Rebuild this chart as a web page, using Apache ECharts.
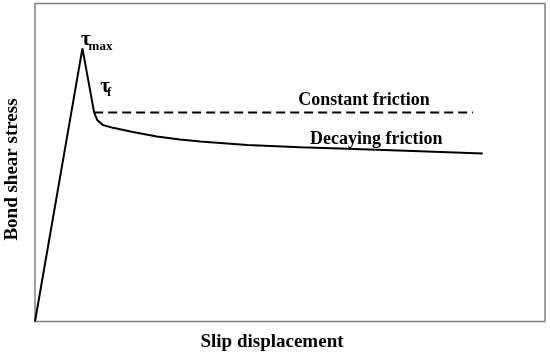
<!DOCTYPE html>
<html>
<head>
<meta charset="utf-8">
<script src="https://cdn.jsdelivr.net/npm/echarts@6/dist/echarts.min.js"></script>
<style>
html,body{margin:0;padding:0;background:#fff;}
#c{width:550px;height:357px;}
</style>
</head>
<body>
<div id="c"></div>
<script>
// Bond–slip curve (arbitrary units, 0–100 on both axes)
const slip   = [0, 9.3, 11.6, 12.2, 13.3, 15.3, 19.2, 23.9, 28.4, 32.4, 41.6, 52.0, 61.2, 75.5, 87.8];
const stress = [0, 85.9, 65.7, 63.4, 61.8, 60.9, 59.6, 58.2, 57.2, 56.6, 55.5, 54.8, 54.3, 53.5, 52.8];
// Constant friction plateau
const constSlip   = [11.6, 85.9];
const constStress = [65.7, 65.7];
// Annotations
const annoText = ['τ', 'max', 'τ', 'f', 'Constant friction', 'Decaying friction'];
const annoX    = [9.0, 10.5, 12.8, 14.1, 64.5, 66.9];
const annoY    = [88.6, 86.5, 73.9, 71.9, 69.7, 57.4];
const annoSize = [21, 13, 21, 13, 18, 18];
const xName = 'Slip displacement';
const yName = 'Bond shear stress';

const font = "'Liberation Serif','Times New Roman',serif";
const chart = echarts.init(document.getElementById('c'), null, {renderer: 'canvas'});

const annoData = annoText.map((t, i) => ({
  value: [annoX[i], annoY[i]],
  label: {
    show: true, formatter: t, position: 'inside',
    fontSize: annoSize[i], fontWeight: 'bold', fontFamily: font, color: '#000',
    align: i < 4 ? 'left' : 'center', verticalAlign: 'middle'
  }
}));

chart.setOption({
  animation: false,
  grid: {left: 35, right: 5, top: 3.5, bottom: 35.5, show: true, outerBoundsMode: 'none', containLabel: false,
         borderColor: '#808080', borderWidth: 1.5, backgroundColor: '#fff'},
  xAxis: {
    type: 'value', min: 0, max: 100,
    name: xName, nameLocation: 'middle', nameGap: 11,
    nameTextStyle: {fontSize: 19, fontWeight: 'bold', fontFamily: font, color: '#000', padding: [0, 36, 0, 0]},
    axisLine: {show: false}, axisTick: {show: false}, axisLabel: {show: false}, splitLine: {show: false}
  },
  yAxis: {
    type: 'value', min: 0, max: 100,
    name: yName, nameLocation: 'middle', nameGap: 13,
    nameTextStyle: {fontSize: 19, fontWeight: 'bold', fontFamily: font, color: '#000', padding: [0, 14, 0, 0]},
    axisLine: {show: false}, axisTick: {show: false}, axisLabel: {show: false}, splitLine: {show: false}
  },
  series: [
    {
      type: 'line', data: slip.map((x, i) => [x, stress[i]]),
      showSymbol: false, symbol: 'none',
      lineStyle: {color: '#000', width: 2}
    },
    {
      type: 'line', data: constSlip.map((x, i) => [x, constStress[i]]),
      showSymbol: false, symbol: 'none',
      lineStyle: {color: '#000', width: 2, type: [9, 5]}
    },
    {
      type: 'scatter', symbolSize: 0, data: annoData, silent: true,
      itemStyle: {opacity: 1}
    }
  ]
});
</script>
</body>
</html>
